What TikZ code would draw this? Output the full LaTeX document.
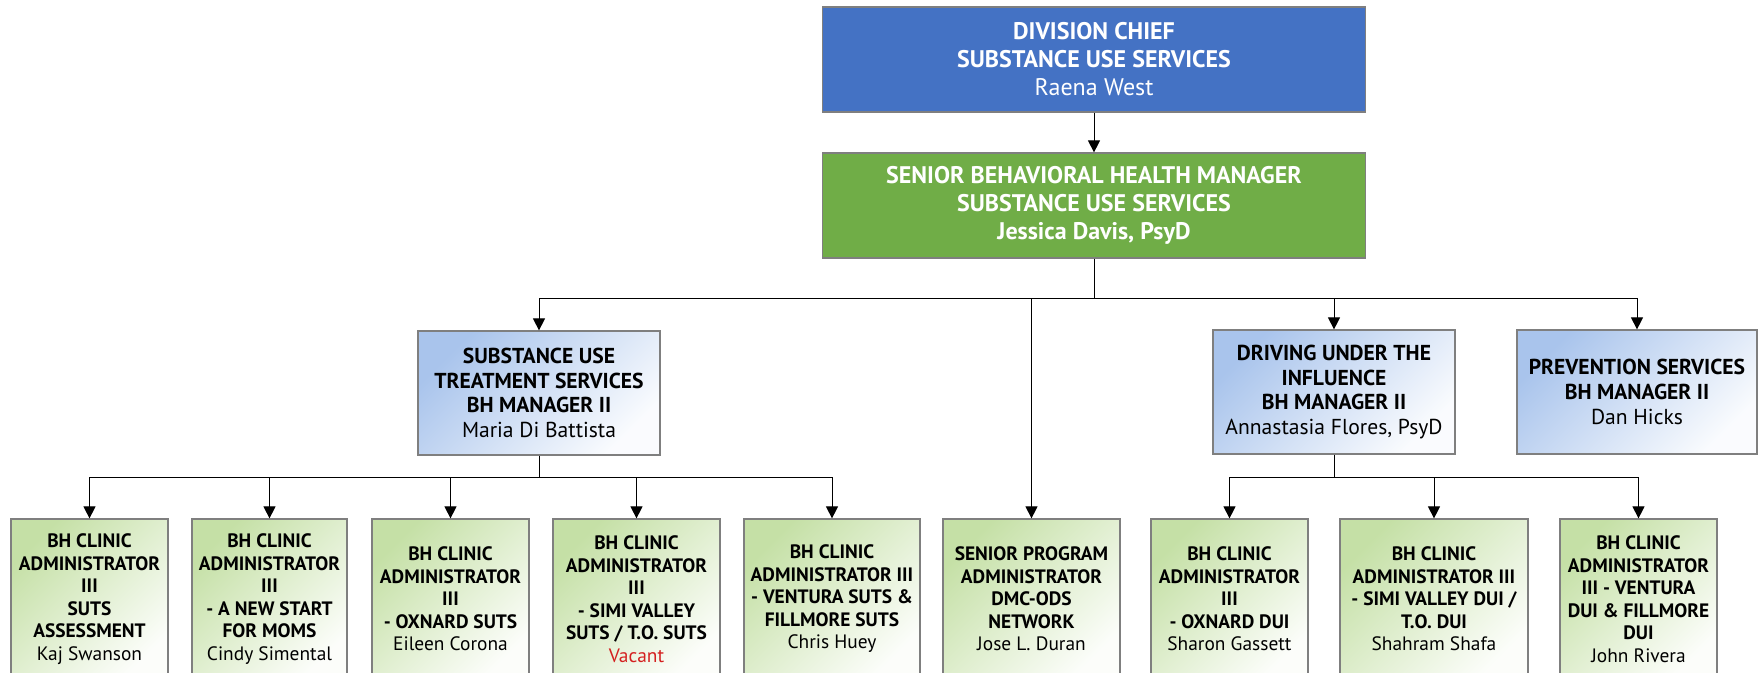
\documentclass[tikz,border=0pt]{standalone}
\usepackage{fontspec}
\setmainfont{PT Sans}
\usetikzlibrary{arrows.meta}
\definecolor{chiefblue}{HTML}{4472C4}
\definecolor{mgrgreen}{HTML}{70AD47}
\definecolor{midblue}{HTML}{A9C4EC}
\definecolor{lowgreen}{HTML}{C5E0A6}
\definecolor{boxline}{HTML}{7F7F7F}
\definecolor{vacred}{HTML}{D42020}
\tikzset{
  orgbox/.style={draw=boxline, line width=0.6pt, align=center, inner sep=1pt},
  topbox/.style={orgbox, text=white, minimum width=271.5pt, minimum height=52.5pt, font=\fontsize{12}{14}\selectfont\bfseries},
  midbox/.style={orgbox, minimum width=121pt, minimum height=62pt, shading=axis, top color=midblue, bottom color=white!94!midblue, shading angle=45, font=\fontsize{10.8}{12.3}\selectfont\bfseries},
  lowbox/.style={orgbox, minimum height=80pt, shading=axis, top color=lowgreen, bottom color=white!94!lowgreen, shading angle=45, font=\fontsize{9.7}{11.25}\selectfont\bfseries},
  wire/.style={line width=0.5pt},
  link/.style={wire, -{Triangle[length=6pt,width=6pt]}}
}
\begin{document}
\begin{tikzpicture}[x=0.5pt,y=-0.5pt]
\useasboundingbox (0,0) rectangle (1758,673);
\clip (0,0) rectangle (1758,673);
\node[topbox, fill=chiefblue] (chief) at (1094,59.5) {DIVISION CHIEF\\SUBSTANCE USE SERVICES\\\mdseries Raena West};
\node[topbox, fill=mgrgreen] (senior) at (1094,205.5) {SENIOR BEHAVIORAL HEALTH MANAGER\\SUBSTANCE USE SERVICES\\Jessica Davis, PsyD};

\node[midbox] (suts) at (539,393) {SUBSTANCE USE\\TREATMENT SERVICES\\BH MANAGER II\\\mdseries Maria Di Battista};
\node[midbox] (dui) at (1334,392) {DRIVING UNDER THE\\INFLUENCE\\BH MANAGER II\\\mdseries Annastasia Flores, PsyD};
\node[midbox, minimum width=120pt] (prev) at (1637,392) {PREVENTION SERVICES\\BH MANAGER II\\\mdseries Dan Hicks};

\node[lowbox, minimum width=78.5pt] (assess) at (89.5,599) {BH CLINIC\\ADMINISTRATOR\\III\\SUTS\\ASSESSMENT\\\mdseries Kaj Swanson};
\node[lowbox, minimum width=77.5pt] (moms) at (269.5,599) {BH CLINIC\\ADMINISTRATOR\\III\\- A NEW START\\FOR MOMS\\\mdseries Cindy Simental};
\node[lowbox, minimum width=78.5pt] (oxsuts) at (450.5,599) {BH CLINIC\\ADMINISTRATOR\\III\\- OXNARD SUTS\\\mdseries Eileen Corona};
\node[lowbox, minimum width=83.5pt] (simisuts) at (636.5,599) {BH CLINIC\\ADMINISTRATOR\\III\\- SIMI VALLEY\\SUTS / T.O. SUTS\\\mdseries\color{vacred}Vacant};
\node[lowbox, minimum width=88pt] (vensuts) at (832,599) {BH CLINIC\\ADMINISTRATOR III\\- VENTURA SUTS \&\\FILLMORE SUTS\\\mdseries Chris Huey};
\node[lowbox, minimum width=88.5pt] (dmc) at (1031.5,599) {SENIOR PROGRAM\\ADMINISTRATOR\\DMC-ODS\\NETWORK\\\mdseries Jose L. Duran};
\node[lowbox, minimum width=78.5pt] (oxdui) at (1229.5,599) {BH CLINIC\\ADMINISTRATOR\\III\\- OXNARD DUI\\\mdseries Sharon Gassett};
\node[lowbox, minimum width=94pt] (simidui) at (1434,599) {BH CLINIC\\ADMINISTRATOR III\\- SIMI VALLEY DUI /\\T.O. DUI\\\mdseries Shahram Shafa};
\node[lowbox, minimum width=78.5pt] (vendui) at (1638.5,599) {BH CLINIC\\ADMINISTRATOR\\III - VENTURA\\DUI \& FILLMORE\\DUI\\\mdseries John Rivera};

\coordinate (topbus) at (1094,299);
\coordinate (sutsbus) at (539,478);
\coordinate (duibus) at (1334,478);

\draw[link] (chief) -- (senior);
\draw[wire] (senior) -- (topbus);
\draw[link] (topbus) -| (suts.north);
\draw[link] (topbus) -| (dui.north);
\draw[link] (topbus) -| (prev.north);
\draw[link] (topbus) -| (dmc.north);

\draw[wire] (suts) -- (sutsbus);
\draw[link] (sutsbus) -| (assess.north);
\draw[link] (sutsbus) -| (moms.north);
\draw[link] (sutsbus) -| (oxsuts.north);
\draw[link] (sutsbus) -| (simisuts.north);
\draw[link] (sutsbus) -| (vensuts.north);

\draw[wire] (dui) -- (duibus);
\draw[link] (duibus) -| (oxdui.north);
\draw[link] (duibus) -| (simidui.north);
\draw[link] (duibus) -| (vendui.north);
\end{tikzpicture}
\end{document}
